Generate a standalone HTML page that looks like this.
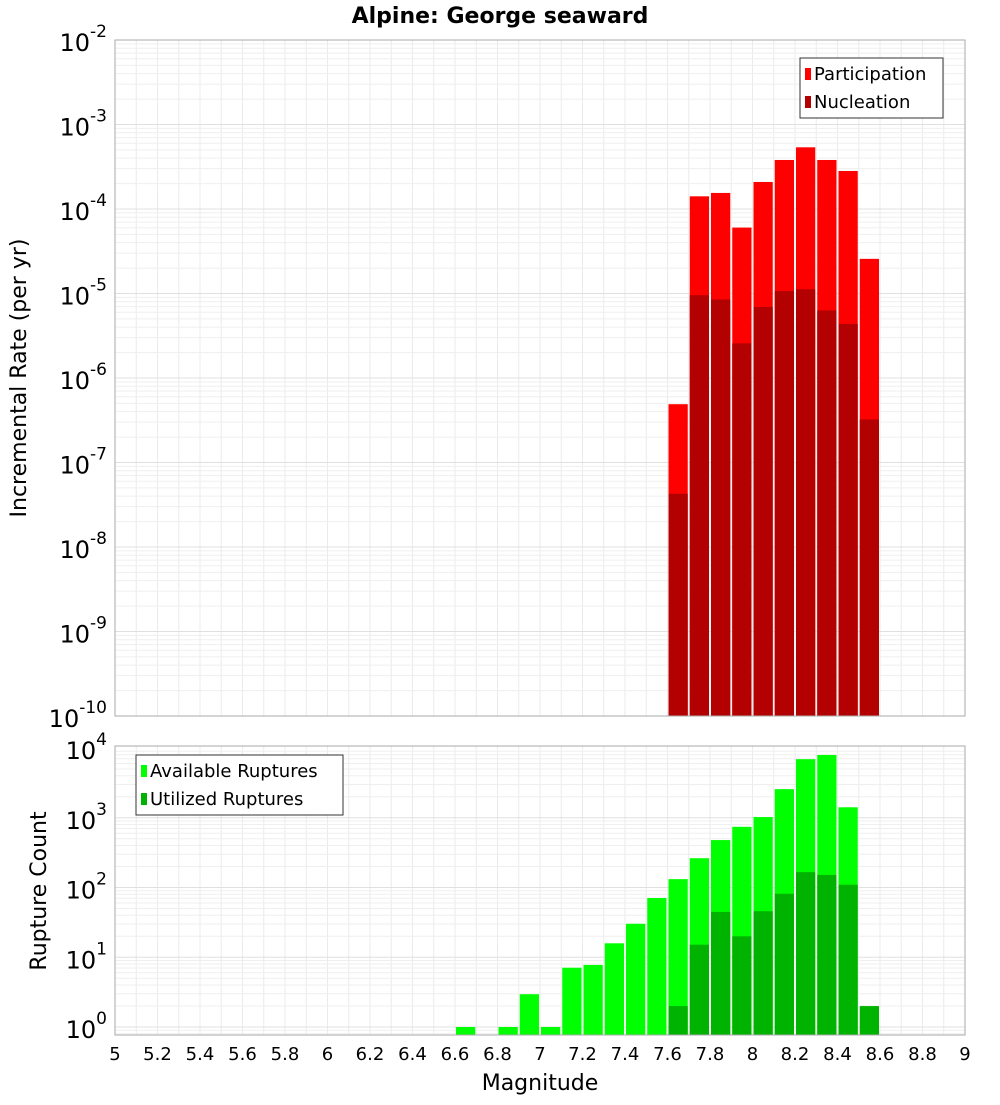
<!DOCTYPE html>
<html><head><meta charset="utf-8"><style>
body{margin:0;background:#fff}
svg text{font-family:"DejaVu Sans","Liberation Sans",sans-serif}
</style></head><body>
<svg id="c" width="1000" height="1100" xmlns="http://www.w3.org/2000/svg"></svg>
<script>
const binCenters=[7.65,7.75,7.85,7.95,8.05,8.15,8.25,8.35,8.45,8.55];
const participationLog=[-6.31,-3.85,-3.81,-4.22,-3.68,-3.42,-3.27,-3.42,-3.55,-4.59];
const nucleationLog=[-7.37,-5.02,-5.07,-5.59,-5.16,-4.97,-4.95,-5.20,-5.36,-6.49];
const countCenters=[6.65,6.85,6.95,7.05,7.15,7.25,7.35,7.45,7.55,7.65,7.75,7.85,7.95,8.05,8.15,8.25,8.35,8.45,8.55];
const availableLog=[0,0,0.47,0,0.85,0.89,1.20,1.48,1.85,2.12,2.42,2.68,2.87,3.01,3.41,3.84,3.90,3.15,null];
const utilizedLog=[null,null,null,null,null,null,null,null,null,0.3,1.18,1.65,1.30,1.66,1.91,2.22,2.18,2.04,0.3];
const xTicks=[5,5.2,5.4,5.6,5.8,6,6.2,6.4,6.6,6.8,7,7.2,7.4,7.6,7.8,8,8.2,8.4,8.6,8.8,9];
const xTickLabels=["5","5.2","5.4","5.6","5.8","6","6.2","6.4","6.6","6.8","7","7.2","7.4","7.6","7.8","8","8.2","8.4","8.6","8.8","9"];
const topExps=[-2,-3,-4,-5,-6,-7,-8,-9,-10];
const botExps=[4,3,2,1,0];

const svg=document.getElementById('c');const NS='http://www.w3.org/2000/svg';
function mk(t,a,p){const e=document.createElementNS(NS,t);for(const k in a)e.setAttribute(k,a[k]);(p||svg).appendChild(e);return e;}
const L=115,R=965;
const X=v=>L+(v-5)*(R-L)/4;
const T0=40,T1=716;const Yt=l=>T0+(-2-l)*(T1-T0)/8;
const B0=746,B1=1035;const Yb=l=>1027-l*69.75;
function grid(y0,y1,yf,lo,hi){
  for(let x=5;x<=9.001;x+=0.1){const l=mk('line',{x1:X(x),x2:X(x),y1:y0,y2:y1,stroke:'#ebebeb','stroke-width':1});}
  for(let d=lo;d<hi;d++)for(let m=1;m<10;m++){const y=yf(d+Math.log10(m));if(y<y0||y>y1)continue;const l=mk('line',{x1:L,x2:R,y1:y,y2:y,stroke:m==1?'#e0e0e0':'#efefef','stroke-width':1});}
}
grid(T0,T1,Yt,-10,-2);grid(B0,B1,Yb,-1,4);
const w=(R-L)/40;
binCenters.forEach((c,i)=>{
  const r=mk('rect',{x:X(c)-w/2+1,y:Yt(participationLog[i]),width:w-2,height:T1-Yt(participationLog[i]),fill:'#ff0000'});
  const n=mk('rect',{x:X(c)-w/2+1,y:Yt(nucleationLog[i]),width:w-2,height:T1-Yt(nucleationLog[i]),fill:'#b30000'});
});
countCenters.forEach((c,i)=>{
  if(availableLog[i]!==null){const r=mk('rect',{x:X(c)-w/2+1,y:Yb(availableLog[i]),width:w-2,height:B1-Yb(availableLog[i]),fill:'#00ff00'});}
  if(utilizedLog[i]!==null){const n=mk('rect',{x:X(c)-w/2+1,y:Yb(utilizedLog[i]),width:w-2,height:B1-Yb(utilizedLog[i]),fill:'#00b300'});}
});
let f=mk('rect',{x:L,y:T0,width:R-L,height:T1-T0,fill:'none',stroke:'#aaa'});
f=mk('rect',{x:L,y:B0,width:R-L,height:B1-B0,fill:'none',stroke:'#aaa'});
function ylab(y,e,name){const t=mk('text',{x:107,y:y+11,'text-anchor':'end','font-size':24});
  t.innerHTML='10<tspan dy="-14" font-size="17">'+e+'</tspan>';}
topExps.forEach(e=>ylab(Yt(e),e,'y-tick-label'));
botExps.forEach(e=>ylab(Yb(e),e,'bottom-y-tick-label'));
xTicks.forEach((v,i)=>{const t=mk('text',{x:X(v),y:1060,'text-anchor':'middle','font-size':18});t.textContent=xTickLabels[i];});
let t=mk('text',{x:500,y:23,'text-anchor':'middle','font-size':22,'font-weight':'bold'});t.textContent='Alpine: George seaward';
t=mk('text',{x:540,y:1090,'text-anchor':'middle','font-size':22});t.textContent='Magnitude';
t=mk('text',{x:0,y:0,'text-anchor':'middle','font-size':22,transform:'translate(26,378) rotate(-90)'});t.textContent='Incremental Rate (per yr)';
t=mk('text',{x:0,y:0,'text-anchor':'middle','font-size':22,transform:'translate(46,891) rotate(-90)'});t.textContent='Rupture Count';
function legend(x,y,wd,items,name){const g=mk('g',{});
  mk('rect',{x:x,y:y,width:wd,height:60,fill:'#fff',stroke:'#333'},g);
  items.forEach((it,i)=>{mk('rect',{x:x+5,y:y+10+i*28,width:6,height:12,fill:it[1]},g);const tx=mk('text',{x:x+14,y:y+22+i*28,'font-size':18},g);tx.textContent=it[0];});}
legend(800,58,143,[['Participation','#ff0000'],['Nucleation','#b30000']],'top-legend');
legend(136,755,207,[['Available Ruptures','#00ff00'],['Utilized Ruptures','#00b300']],'bottom-legend');
</script>
</body></html>
